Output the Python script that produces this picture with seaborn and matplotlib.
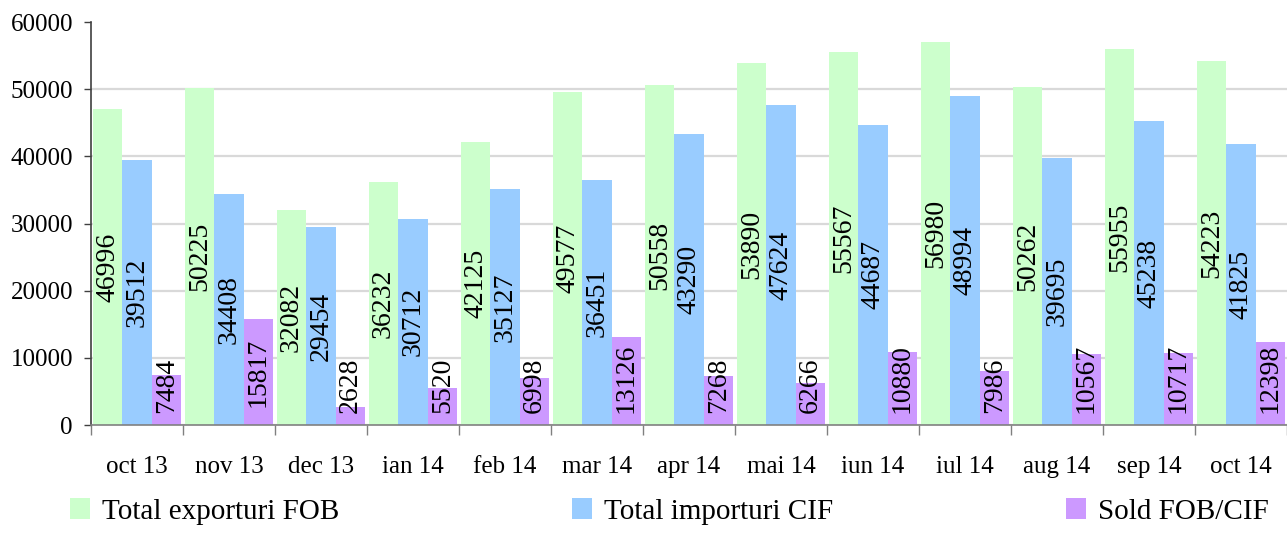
import matplotlib
matplotlib.use('Agg')
import matplotlib.pyplot as plt
from matplotlib.patches import Patch
import seaborn as sns
import pandas as pd
import numpy as np

sns.set_style('white')
plt.rcParams['font.family'] = ['Liberation Serif', 'DejaVu Serif']
plt.rcParams['text.color'] = 'black'

months = ['oct 13', 'nov 13', 'dec 13', 'ian 14', 'feb 14', 'mar 14', 'apr 14',
          'mai 14', 'iun 14', 'iul 14', 'aug 14', 'sep 14', 'oct 14']
series = ['Total exporturi FOB', 'Total importuri CIF', 'Sold FOB/CIF']
exports = [46996, 50225, 32082, 36232, 42125, 49577, 50558, 53890, 55567, 56980, 50262, 55955, 54223]
imports = [39512, 34408, 29454, 30712, 35127, 36451, 43290, 47624, 44687, 48994, 39695, 45238, 41825]
sold = [7484, 15817, 2628, 5520, 6998, 13126, 7268, 6266, 10880, 7986, 10567, 10717, 12398]
colors = ['#CCFFCC', '#99CCFF', '#CC99FF']

df = pd.DataFrame({
    'month': months * 3,
    'series': [series[0]] * 13 + [series[1]] * 13 + [series[2]] * 13,
    'value': exports + imports + sold,
})

fig = plt.figure(figsize=(12.87, 5.33), dpi=100)
ax = fig.add_axes([91 / 1287, 108 / 533, 1196 / 1287, 403 / 533])

sns.barplot(data=df, x='month', y='value', hue='series', hue_order=series,
            order=months, palette=colors, saturation=1, width=0.96, gap=0,
            linewidth=0, legend=False, ax=ax)

ax.set_xlim(-0.5, 12.5)
ax.set_ylim(0, 60000)
ax.set_yticks(np.arange(0, 60001, 10000))
ax.set_xlabel('')
ax.set_ylabel('')

# gridlines, no line at the top
ax.yaxis.grid(True, color='#d9d9d9', linewidth=1.6)
ax.set_axisbelow(True)
ax.get_ygridlines()[-1].set_visible(False)

for s in ['top', 'right']:
    ax.spines[s].set_visible(False)
ax.spines['left'].set_color('#404040')
ax.spines['left'].set_linewidth(1.2)
ax.spines['bottom'].set_color('#808080')
ax.spines['bottom'].set_linewidth(1.2)

ax.tick_params(axis='y', labelsize=18, length=5, width=1, color='#404040',
               labelcolor='black', direction='out', pad=8, left=True)
ax.set_xticks(range(13))
ax.set_xticklabels(months)
ax.tick_params(axis='x', which='major', length=0, labelsize=18,
               labelcolor='black', pad=22)
ax.set_xticks(np.arange(-0.5, 13, 1), minor=True)
ax.tick_params(axis='x', which='minor', length=7, width=1, color='#808080',
               direction='out', bottom=True)

# vertical value labels, centred in the bar but kept off the axis
label_fs = 20
px_per_unit = (ax.transData.transform((0, 10000))[1] - ax.transData.transform((0, 0))[1]) / 10000
min_px = 12
offsets = [-0.32, 0.0, 0.32]
for vals, off in zip([exports, imports, sold], offsets):
    for i, v in enumerate(vals):
        txt = str(v)
        half_px = len(txt) * 0.5 * label_fs * 100 / 72 / 2
        if v / 2 * px_per_unit - half_px < min_px:
            ax.annotate(txt, xy=(i + off, 0), xytext=(0, min_px * 0.72),
                        textcoords='offset points', rotation=90,
                        rotation_mode='anchor', ha='left', va='center',
                        fontsize=label_fs, color='black')
        else:
            ax.text(i + off, v / 2, txt, rotation=90, rotation_mode='anchor',
                    ha='center', va='center', fontsize=label_fs, color='black')

handles = [Patch(facecolor=c, edgecolor='none') for c in colors]
fig.legend(handles, series, loc='center', ncol=3, mode='expand',
           bbox_to_anchor=(58 / 1287, 0.01, 1222 / 1287, 0.06),
           frameon=False, fontsize=21, handlelength=0.7, handleheight=0.7,
           handletextpad=0.4, borderaxespad=0)

fig.savefig('out.png', dpi=100)
